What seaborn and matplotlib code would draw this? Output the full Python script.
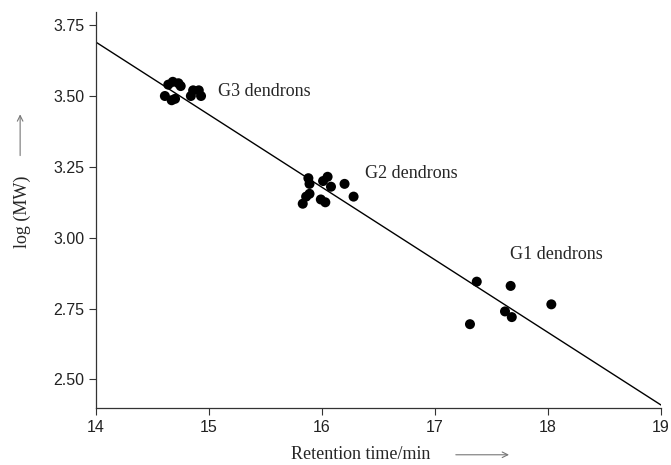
import matplotlib
matplotlib.use("Agg")
import matplotlib.pyplot as plt
import seaborn as sns
import pandas as pd

# retention time (min) and log(MW) of the dendrons
g3_time = [14.61, 14.64, 14.68, 14.67, 14.70, 14.73, 14.75, 14.84, 14.86, 14.91, 14.93]
g3_logmw = [3.50, 3.54, 3.55, 3.485, 3.49, 3.545, 3.535, 3.50, 3.52, 3.52, 3.50]

g2_time = [15.83, 15.86, 15.88, 15.89, 15.89, 15.99, 16.03, 16.01, 16.05, 16.08, 16.20, 16.28]
g2_logmw = [3.12, 3.145, 3.21, 3.19, 3.155, 3.135, 3.125, 3.20, 3.215, 3.18, 3.19, 3.145]

g1_time = [17.37, 17.67, 17.62, 17.68, 17.31, 18.03]
g1_logmw = [2.845, 2.83, 2.74, 2.72, 2.695, 2.765]

# calibration line
fit_time = [14, 19]
fit_logmw = [3.69, 2.41]

group_names = ["G3 dendrons", "G2 dendrons", "G1 dendrons"]
label_pos = [(15.08, 3.515), (16.38, 3.228), (17.66, 2.94)]

x_ticks = [14, 15, 16, 17, 18, 19]
y_ticks = [2.50, 2.75, 3.00, 3.25, 3.50, 3.75]

df = pd.DataFrame({
    "time": g3_time + g2_time + g1_time,
    "logmw": g3_logmw + g2_logmw + g1_logmw,
})

sns.set_style("ticks")
serif = ["Liberation Serif", "DejaVu Serif"]
sans = ["Liberation Sans", "DejaVu Sans"]
plt.rcParams["font.family"] = sans

fig = plt.figure(figsize=(6.71, 4.65), dpi=100)
ax = fig.add_axes([0.143, 0.123, 0.842, 0.851])

ax.plot(fit_time, fit_logmw, color="black", lw=1.0)
sns.scatterplot(data=df, x="time", y="logmw", color="black", s=52,
                edgecolor="none", ax=ax, zorder=3)

for name, (tx, ty) in zip(group_names, label_pos):
    ax.text(tx, ty, name, family=serif, fontsize=13, va="center", ha="left")

ax.set_xlim(14, 19)
ax.set_ylim(2.40, 3.796)
ax.set_xticks(x_ticks)
ax.set_yticks(y_ticks)
ax.set_yticklabels([f"{v:.2f}" for v in y_ticks])
ax.tick_params(labelsize=11.5, length=5, width=0.8, colors="#333333", labelcolor="#222222")
for side in ["left", "bottom"]:
    ax.spines[side].set_color("#333333")
    ax.spines[side].set_linewidth(0.9)
sns.despine(ax=ax)

ax.set_xlabel("")
ax.set_ylabel("")

# axis titles with arrows
arrow = dict(arrowstyle="->", color="#777777", lw=0.8)
ax.annotate("Retention time/min", xy=(16.34, 0.013), xycoords=("data", "figure fraction"),
            family=serif, fontsize=13, ha="center", va="baseline", annotation_clip=False)
ax.annotate("", xy=(17.68, 0.022), xytext=(17.16, 0.022),
            xycoords=("data", "figure fraction"), arrowprops=arrow, annotation_clip=False)
ax.annotate("log (MW)", xy=(0.033, 3.09), xycoords=("figure fraction", "data"),
            family=serif, fontsize=13, rotation=90, ha="center", va="center",
            annotation_clip=False)
ax.annotate("", xy=(0.030, 3.445), xytext=(0.030, 3.28),
            xycoords=("figure fraction", "data"), arrowprops=arrow, annotation_clip=False)

fig.savefig("out.png", dpi=100)
